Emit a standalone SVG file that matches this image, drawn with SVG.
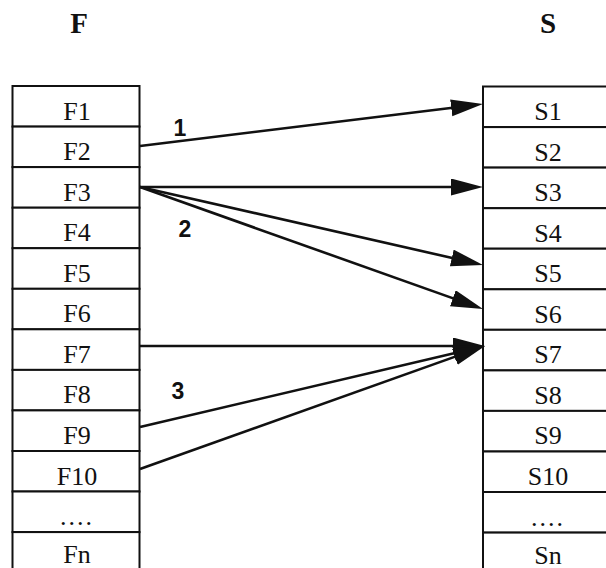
<svg xmlns="http://www.w3.org/2000/svg" width="606" height="568" viewBox="0 0 606 568">
<style>
.cell{fill:#fff;stroke:#111;stroke-width:2}
.lbl{font-family:"Liberation Serif","Times New Roman",serif;font-size:26px;fill:#111;text-anchor:middle}
.title{font-family:"Liberation Serif","Times New Roman",serif;font-size:29px;font-weight:bold;fill:#111;text-anchor:middle}
.num{font-family:"Liberation Sans",Arial,sans-serif;font-size:23px;font-weight:bold;fill:#111;text-anchor:middle}
.arr{fill:none;stroke:#111;stroke-width:2.6;marker-end:url(#ah)}
</style>
<defs>
<marker id="ah" markerUnits="userSpaceOnUse" markerWidth="34" markerHeight="20" refX="22" refY="8.5" orient="auto" viewBox="0 0 34 20">
<path d="M0,0 L32,8.5 L0,17 Z" fill="#111"/>
</marker>
</defs>
<rect width="606" height="568" fill="#fff"/>
<text class="title" x="79" y="33">F</text>
<text class="title" x="548" y="33">S</text>
<g id="F1"><rect class="cell" x="12.5" y="86" width="127" height="40.6"/><text class="lbl" x="77" y="119.5">F1</text></g>
<g id="F2"><rect class="cell" x="12.5" y="126.6" width="127" height="40.5"/><text class="lbl" x="77" y="160">F2</text></g>
<g id="F3"><rect class="cell" x="12.5" y="167.1" width="127" height="40.6"/><text class="lbl" x="77" y="200.6">F3</text></g>
<g id="F4"><rect class="cell" x="12.5" y="207.7" width="127" height="40.5"/><text class="lbl" x="77" y="241.2">F4</text></g>
<g id="F5"><rect class="cell" x="12.5" y="248.2" width="127" height="40.6"/><text class="lbl" x="77" y="281.7">F5</text></g>
<g id="F6"><rect class="cell" x="12.5" y="288.8" width="127" height="40.5"/><text class="lbl" x="77" y="322.3">F6</text></g>
<g id="F7"><rect class="cell" x="12.5" y="329.3" width="127" height="40.6"/><text class="lbl" x="77" y="362.8">F7</text></g>
<g id="F8"><rect class="cell" x="12.5" y="369.9" width="127" height="40.5"/><text class="lbl" x="77" y="403.4">F8</text></g>
<g id="F9"><rect class="cell" x="12.5" y="410.4" width="127" height="40.6"/><text class="lbl" x="77" y="443.9">F9</text></g>
<g id="F10"><rect class="cell" x="12.5" y="451" width="127" height="40.5"/><text class="lbl" x="77" y="484.5">F10</text></g>
<g id="Fdots"><rect class="cell" x="12.5" y="491.5" width="127" height="40.6"/><text class="lbl" x="77" y="525" letter-spacing="2">....</text></g>
<g id="Fn"><rect class="cell" x="12.5" y="532.1" width="127" height="40.5"/><text class="lbl" x="77" y="563">Fn</text></g>
<g id="S1"><rect class="cell" x="483" y="86.5" width="130" height="40.6"/><text class="lbl" x="548" y="120">S1</text></g>
<g id="S2"><rect class="cell" x="483" y="127.1" width="130" height="40.5"/><text class="lbl" x="548" y="160.6">S2</text></g>
<g id="S3"><rect class="cell" x="483" y="167.6" width="130" height="40.6"/><text class="lbl" x="548" y="201.1">S3</text></g>
<g id="S4"><rect class="cell" x="483" y="208.2" width="130" height="40.5"/><text class="lbl" x="548" y="241.7">S4</text></g>
<g id="S5"><rect class="cell" x="483" y="248.7" width="130" height="40.6"/><text class="lbl" x="548" y="282.2">S5</text></g>
<g id="S6"><rect class="cell" x="483" y="289.3" width="130" height="40.5"/><text class="lbl" x="548" y="322.8">S6</text></g>
<g id="S7"><rect class="cell" x="483" y="329.8" width="130" height="40.6"/><text class="lbl" x="548" y="363.3">S7</text></g>
<g id="S8"><rect class="cell" x="483" y="370.4" width="130" height="40.5"/><text class="lbl" x="548" y="403.9">S8</text></g>
<g id="S9"><rect class="cell" x="483" y="410.9" width="130" height="40.6"/><text class="lbl" x="548" y="444.4">S9</text></g>
<g id="S10"><rect class="cell" x="483" y="451.5" width="130" height="40.5"/><text class="lbl" x="548" y="485">S10</text></g>
<g id="Sdots"><rect class="cell" x="483" y="492" width="130" height="40.6"/><text class="lbl" x="548" y="525.5" letter-spacing="2">....</text></g>
<g id="Sn"><rect class="cell" x="483" y="532.6" width="130" height="40.5"/><text class="lbl" x="548" y="563.5">Sn</text></g>
<g id="connectors">
<path class="arr" d="M140,146 L473.07,105.22"/>
<path class="arr" d="M140,187 L473,187"/>
<path class="arr" d="M140,187 L473.25,262.77"/>
<path class="arr" d="M140,187 L473.59,305.63"/>
<path class="arr" d="M140,346 L475,346"/>
<path class="arr" d="M140,427 L475.27,348.29"/>
<path class="arr" d="M140,469 L475.58,349.37"/>
<text class="num" x="180" y="136">1</text>
<text class="num" x="185" y="237">2</text>
<text class="num" x="178" y="399">3</text>
</g>
</svg>
